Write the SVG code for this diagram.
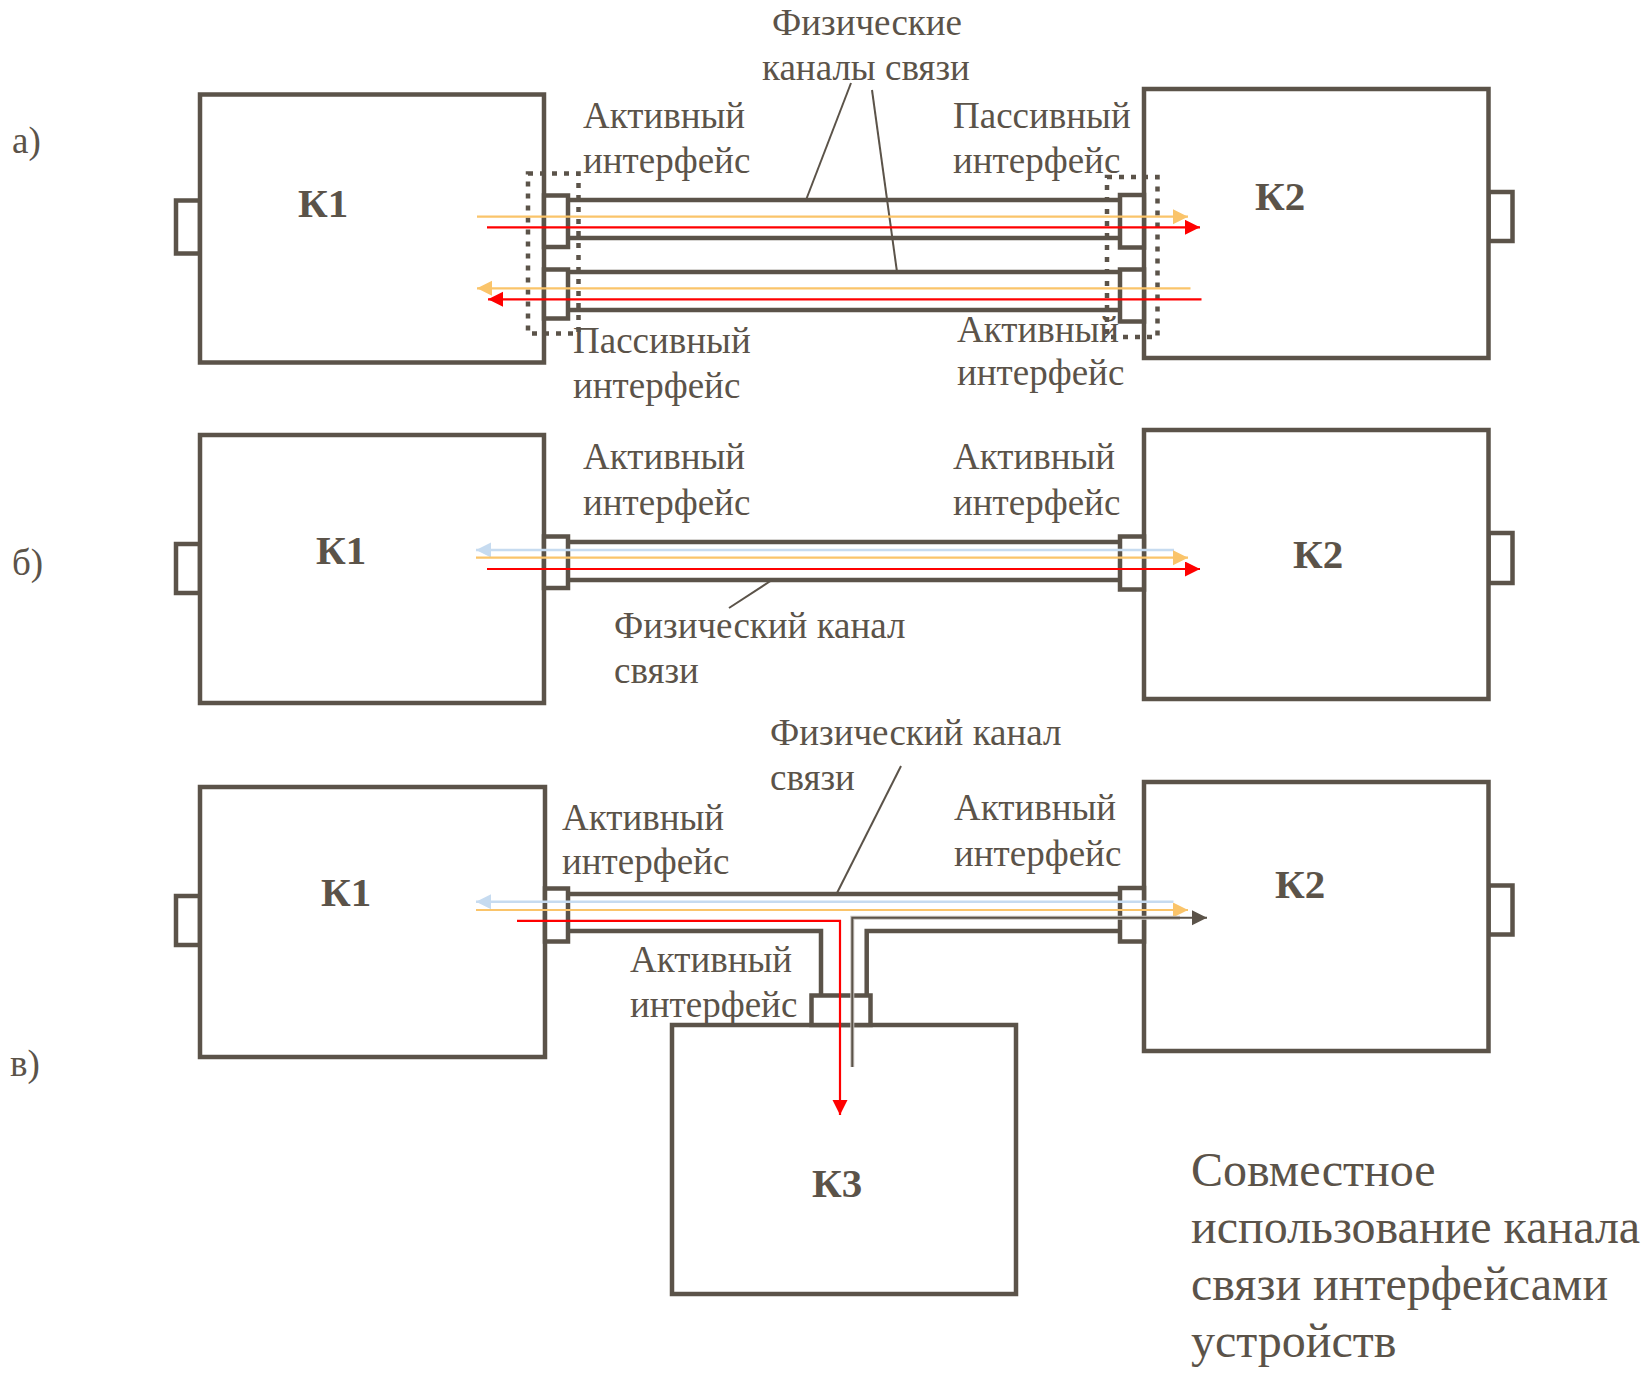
<svg xmlns="http://www.w3.org/2000/svg" width="1652" height="1374" viewBox="0 0 1652 1374">
<style>
.box{fill:#fff;stroke:#5b5349;stroke-width:4.5}
.ib{fill:#fff;stroke:#5b5349;stroke-width:4.5}
.ch{fill:none;stroke:#5b5349;stroke-width:4.5}
.dot{fill:none;stroke:#5b5349;stroke-width:4.5;stroke-dasharray:5 7}
.lead{fill:none;stroke:#5b5349;stroke-width:2}
.or{fill:none;stroke:#fac46a;stroke-width:2.2}
.rd{fill:none;stroke:#ff0000;stroke-width:2.2}
.bl{fill:none;stroke:#c6dbf0;stroke-width:2.6}
.dk{fill:none;stroke:#5b5349;stroke-width:2}
.halo{fill:none;stroke:#c8c4bf;stroke-width:4}
text{font-family:"Liberation Serif","Times New Roman",serif;fill:#5b5349}
.lb{font-size:37px}
.kl{font-size:41px;font-weight:bold}
.big{font-size:48px}
</style>
<defs>
<marker id="aO" markerUnits="userSpaceOnUse" markerWidth="16" markerHeight="16" refX="15" refY="7.5" orient="auto"><path d="M0,0 L15,7.5 L0,15 z" fill="#fac46a"/></marker>
<marker id="aR" markerUnits="userSpaceOnUse" markerWidth="16" markerHeight="16" refX="15" refY="7.5" orient="auto"><path d="M0,0 L15,7.5 L0,15 z" fill="#ff0000"/></marker>
<marker id="aB" markerUnits="userSpaceOnUse" markerWidth="16" markerHeight="16" refX="15" refY="7.5" orient="auto"><path d="M0,0 L15,7.5 L0,15 z" fill="#c6dbf0"/></marker>
<marker id="aD" markerUnits="userSpaceOnUse" markerWidth="16" markerHeight="16" refX="15" refY="7.5" orient="auto"><path d="M0,0 L15,7.5 L0,15 z" fill="#5b5349"/></marker>
</defs>
<rect width="1652" height="1374" fill="#fff"/>

<!-- section labels -->
<text class="lb" x="12" y="153">а)</text>
<text class="lb" x="12" y="575">б)</text>
<text class="lb" x="10" y="1076">в)</text>

<!-- ===== Section a ===== -->
<g id="a-K1">
<rect class="ib" x="176" y="200.5" width="24" height="53"/>
<rect class="box" x="200" y="94.5" width="344" height="268"/>
<rect class="ib" x="544" y="195.5" width="24" height="51.5"/>
<rect class="ib" x="544" y="269.5" width="24" height="49"/>
<text class="kl" x="298" y="217">К1</text>
</g>
<g id="a-K2">
<rect class="ib" x="1488.5" y="192" width="24" height="49"/>
<rect class="box" x="1144" y="89" width="344.5" height="269"/>
<rect class="ib" x="1120" y="195" width="24" height="52.5"/>
<rect class="ib" x="1120" y="269.5" width="24" height="52"/>
<text class="kl" x="1255" y="210">К2</text>
</g>
<g id="a-dotted">
<rect class="dot" x="528" y="173.5" width="50.5" height="160"/>
<rect class="dot" x="1107" y="177" width="50.5" height="160"/>
</g>
<g id="a-labels">
<text class="lb" x="772" y="35">Физические</text>
<text class="lb" x="762" y="80">каналы связи</text>
<text class="lb" x="583" y="128">Активный</text>
<text class="lb" x="583" y="173">интерфейс</text>
<text class="lb" x="953" y="128">Пассивный</text>
<text class="lb" x="953" y="173">интерфейс</text>
<text class="lb" x="573" y="353">Пассивный</text>
<text class="lb" x="573" y="398">интерфейс</text>
<text class="lb" x="957" y="342">Активный</text>
<text class="lb" x="957" y="385">интерфейс</text>
</g>

<!-- ===== Section b ===== -->
<g id="b-K1">
<rect class="ib" x="176" y="544" width="24" height="49"/>
<rect class="box" x="200" y="435" width="344" height="268"/>
<rect class="ib" x="544" y="536.5" width="24" height="51.5"/>
<text class="kl" x="316" y="564">К1</text>
</g>
<g id="b-K2">
<rect class="ib" x="1488.5" y="533" width="24" height="50"/>
<rect class="box" x="1144" y="430" width="344.5" height="269"/>
<rect class="ib" x="1120" y="536.5" width="24" height="53"/>
<text class="kl" x="1293" y="568">К2</text>
</g>
<g id="b-labels">
<text class="lb" x="583" y="469">Активный</text>
<text class="lb" x="583" y="515">интерфейс</text>
<text class="lb" x="953" y="469">Активный</text>
<text class="lb" x="953" y="515">интерфейс</text>
<text class="lb" x="614" y="638">Физический канал</text>
<text class="lb" x="614" y="683">связи</text>
</g>

<!-- ===== Section c ===== -->
<g id="c-K1">
<rect class="ib" x="176" y="896" width="24" height="49"/>
<rect class="box" x="200" y="787" width="345" height="270"/>
<rect class="ib" x="545" y="888.5" width="23" height="53"/>
<text class="kl" x="321" y="906">К1</text>
</g>
<g id="c-K2">
<rect class="ib" x="1488.5" y="885.5" width="24" height="49"/>
<rect class="box" x="1144" y="782" width="344.5" height="269"/>
<rect class="ib" x="1120" y="888" width="24" height="53.5"/>
<text class="kl" x="1275" y="898">К2</text>
</g>
<g id="c-K3">
<rect class="box" x="672" y="1025" width="344" height="269"/>
<rect class="ib" x="811.5" y="995.5" width="59" height="29.5"/>
<text class="kl" x="812" y="1197">К3</text>
</g>
<g id="c-labels">
<text class="lb" x="770" y="745">Физический канал</text>
<text class="lb" x="770" y="790">связи</text>
<text class="lb" x="562" y="830">Активный</text>
<text class="lb" x="562" y="874">интерфейс</text>
<text class="lb" x="954" y="820">Активный</text>
<text class="lb" x="954" y="866">интерфейс</text>
<text class="lb" x="630" y="972">Активный</text>
<text class="lb" x="630" y="1017">интерфейс</text>
</g>

<g id="caption">
<text class="big" x="1191" y="1186">Совместное</text>
<text class="big" x="1191" y="1243">использование канала</text>
<text class="big" x="1191" y="1300">связи интерфейсами</text>
<text class="big" x="1191" y="1357">устройств</text>
</g>

<!-- ===== Connectors ===== -->
<g id="connectors">
<!-- section a channels -->
<line class="ch" x1="568" y1="200" x2="1120" y2="200"/>
<line class="ch" x1="568" y1="238" x2="1120" y2="238"/>
<line class="ch" x1="568" y1="272" x2="1120" y2="272"/>
<line class="ch" x1="568" y1="310" x2="1120" y2="310"/>
<line class="lead" x1="851" y1="83" x2="806" y2="200"/>
<line class="lead" x1="872" y1="90" x2="897" y2="272"/>
<line class="or" x1="477" y1="216.7" x2="1188" y2="216.7" marker-end="url(#aO)"/>
<line class="rd" x1="487" y1="227.3" x2="1200" y2="227.3" marker-end="url(#aR)"/>
<line class="or" x1="1190.5" y1="288.3" x2="477" y2="288.3" marker-end="url(#aO)"/>
<line class="rd" x1="1201.5" y1="299.3" x2="488" y2="299.3" marker-end="url(#aR)"/>

<!-- section b -->
<line class="ch" x1="568" y1="542" x2="1120" y2="542"/>
<line class="ch" x1="568" y1="580" x2="1120" y2="580"/>
<line class="lead" x1="729" y1="608" x2="772" y2="580"/>
<line class="bl" x1="1174" y1="550" x2="476" y2="550" marker-end="url(#aB)"/>
<line class="or" x1="476" y1="557.7" x2="1188" y2="557.7" marker-end="url(#aO)"/>
<line class="rd" x1="487" y1="569" x2="1200" y2="569" marker-end="url(#aR)"/>

<!-- section c -->
<line class="ch" x1="568" y1="894" x2="1120" y2="894"/>
<polyline class="ch" points="568,931 821,931 821,996"/>
<polyline class="ch" points="1120,931 866.7,931 866.7,996"/>
<line class="lead" x1="901" y1="766" x2="837" y2="893"/>
<line class="bl" x1="1173.5" y1="901.7" x2="476" y2="901.7" marker-end="url(#aB)"/>
<line class="or" x1="476" y1="910" x2="1188" y2="910" marker-end="url(#aO)"/>
<polyline class="halo" points="852.3,1067 852.3,917.7 1180,917.7"/>
<polyline class="dk" points="852.3,1067 852.3,917.7 1207,917.7" marker-end="url(#aD)"/>
<polyline class="rd" points="517,920.8 840,920.8 840,1115" marker-end="url(#aR)"/>
</g>
</svg>
